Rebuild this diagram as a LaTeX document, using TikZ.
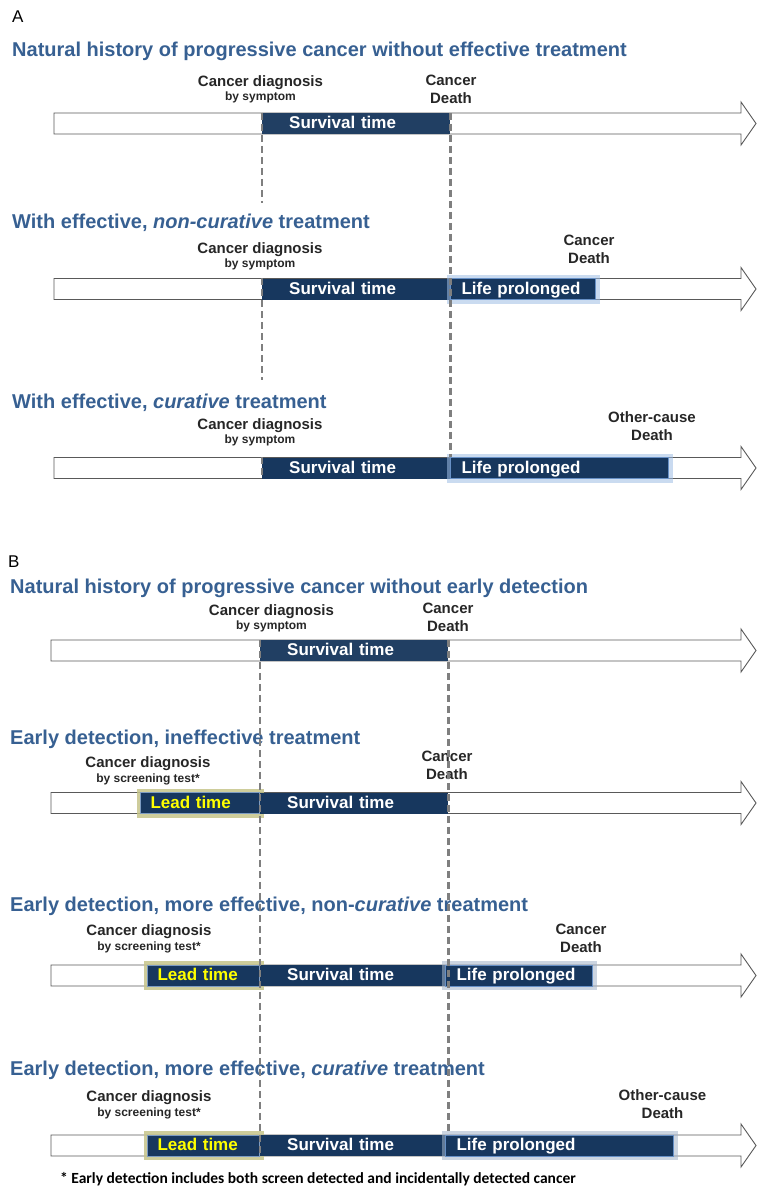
\documentclass[tikz,border=0pt]{standalone}
\usepackage{fontspec}
\setmainfont{Liberation Sans}
\newfontfamily\notefont{Carlito}
\usetikzlibrary{calc}

\definecolor{titleblue}{HTML}{376092}
\definecolor{navy}{HTML}{17375E}
\definecolor{navylt}{HTML}{213F63}
\definecolor{labelgray}{HTML}{262626}
\definecolor{guidegray}{HTML}{7F7F7F}
\definecolor{lifeglow}{HTML}{9EBDE4}
\definecolor{lifeglowb}{HTML}{A3B3C9}
\definecolor{lifeedge}{HTML}{6790C6}
\definecolor{leadglow}{HTML}{C6C48A}
\definecolor{leadedge}{HTML}{7D9CC2}
\definecolor{leadtext}{HTML}{FFFF00}

\newcommand{\boxfnt}{\bfseries\fontsize{17}{20}\selectfont}
\newcommand{\subfnt}{\fontsize{12}{14}\selectfont}

\begin{document}
\begin{tikzpicture}[x=1pt,y=-1pt,
    panel/.style={anchor=base west, inner sep=0pt, font=\fontsize{17}{20}\selectfont},
    title/.style={anchor=base west, inner sep=0pt, text=titleblue,
        font=\bfseries\fontsize{20}{24}\selectfont},
    event/.style={anchor=base, inner sep=0pt, align=center, text=labelgray,
        font=\bfseries\fontsize{15}{18}\selectfont},
    timeline/.style={draw=black!65, fill=white, line width=0.9pt},
    bar/.style={anchor=west, minimum height=21pt, inner ysep=0pt, align=left,
        text height=12.5pt, text depth=2.5pt, font=\boxfnt, text=white, fill=navy},
    survbox/.style={bar, inner xsep=27pt, text width=134pt},
    lifebox/.style={bar, inner xsep=11pt, draw=lifeedge, line width=1pt,
        preaction={draw=#1, line width=8pt, opacity=0.55, rounded corners=3pt}},
    lifebox/.default=lifeglow,
    leadbox/.style={bar, inner xsep=10pt, text=leadtext, draw=leadedge, line width=1pt,
        preaction={draw=leadglow, line width=8pt, opacity=0.85, rounded corners=3pt}},
    guide/.style={draw=guidegray, line width=2.2pt, dash pattern=on 7pt off 4pt}
]
\useasboundingbox (0,0) rectangle (756,1198);

% hollow time arrows
\foreach \y/\xs in {123.5/54, 289/54, 468/54, 650.5/51, 803/51, 975.5/51, 1145.5/51}
    \draw[timeline] (\xs,\y-10.5) -- (741,\y-10.5) -- (741,\y-21.5) -- (756,\y)
        -- (741,\y+21.5) -- (741,\y+10.5) -- (\xs,\y+10.5) -- cycle;

% panel A
\node[panel] (pA) at (12,23) {A};
\node[title] (tA1) at (12,57) {Natural history of progressive cancer without effective treatment};
\node[event] (dxA1) at (260.5,100.5) {Cancer diagnosis\\[-4pt]{\subfnt by symptom}};
\node[event] (dthA1) at (451,104) {Cancer\\Death};
\node[survbox, fill=navylt] (survA1) at (262,123.5) {Survival time};

\node[title] (tA2) at (12,229) {With effective, \textit{non-curative} treatment};
\node[event] (dxA2) at (260,267) {Cancer diagnosis\\[-4pt]{\subfnt by symptom}};
\node[event] (dthA2) at (589,263.5) {Cancer\\Death};
\node[survbox] (survA2) at (262,289) {Survival time};
\node[lifebox, text width=123pt] (lifeA2) at (450,289) {Life prolonged};

\node[title] (tA3) at (12,408) {With effective, \textit{curative} treatment};
\node[event] (dxA3) at (260,443.5) {Cancer diagnosis\\[-4pt]{\subfnt by symptom}};
\node[event] (othA3) at (652,440.5) {Other-cause\\Death};
\node[survbox] (survA3) at (262,468) {Survival time};
\node[lifebox, text width=196pt] (lifeA3) at (450,468) {Life prolonged};

% panel B
\node[panel] (pB) at (8,567) {B};
\node[title] (tB1) at (10,593.5) {Natural history of progressive cancer without early detection};
\node[event] (dxB1) at (271.5,629) {Cancer diagnosis\\[-4pt]{\subfnt by symptom}};
\node[event] (dthB1) at (448,631) {Cancer\\Death};
\node[survbox, fill=navylt] (survB1) at (260,650.5) {Survival time};

\node[title] (tB2) at (10,744) {Early detection, ineffective treatment};
\node[event] (dxB2) at (148,782) {Cancer diagnosis\\[-3pt]{\subfnt by screening test*}};
\node[event] (dthB2) at (447,779.5) {Cancer\\Death};
\node[leadbox, text width=99pt] (leadB2) at (140,803) {Lead time};
\node[survbox] (survB2) at (260,803) {Survival time};

\node[title] (tB3) at (10,911.5) {Early detection, more effective, non-\textit{curative} treatment};
\node[event] (dxB3) at (149,950.5) {Cancer diagnosis\\[-3pt]{\subfnt by screening test*}};
\node[event] (dthB3) at (581,952) {Cancer\\Death};
\node[leadbox, text width=92pt] (leadB3) at (147,975.5) {Lead time};
\node[survbox] (survB3) at (260,975.5) {Survival time};
\node[lifebox=lifeglowb, text width=125pt] (lifeB3) at (445,975.5) {Life prolonged};

\node[title] (tB4) at (10,1075) {Early detection, more effective, \textit{curative} treatment};
\node[event] (dxB4) at (149,1116) {Cancer diagnosis\\[-3pt]{\subfnt by screening test*}};
\node[event] (othB4) at (662.5,1118.5) {Other-cause\\Death};
\node[leadbox, text width=92pt] (leadB4) at (147,1145.5) {Lead time};
\node[survbox] (survB4) at (260,1145.5) {Survival time};
\node[lifebox=lifeglowb, text width=206pt] (lifeB4) at (445,1145.5) {Life prolonged};

\node[anchor=base, inner sep=0pt, font=\notefont\bfseries\fontsize{15.5}{18}\selectfont] (note)
    at (318,1183) {* Early detection includes both screen detected and incidentally detected cancer};

% dashed guides
\draw[guide] (survA1.north west) -- ++(0,90);
\draw[guide] (survA2.north west) -- ++(0,102);
\draw[guide] (survA3.north west) -- (survA3.south west);
\draw[guide] (survA1.north east) -- (survA3.north east);
\draw[guide] (survB1.north west) -- (survB4.south west);
\draw[guide] (survB1.north east) -- (survB4.north east);
\end{tikzpicture}
\end{document}
